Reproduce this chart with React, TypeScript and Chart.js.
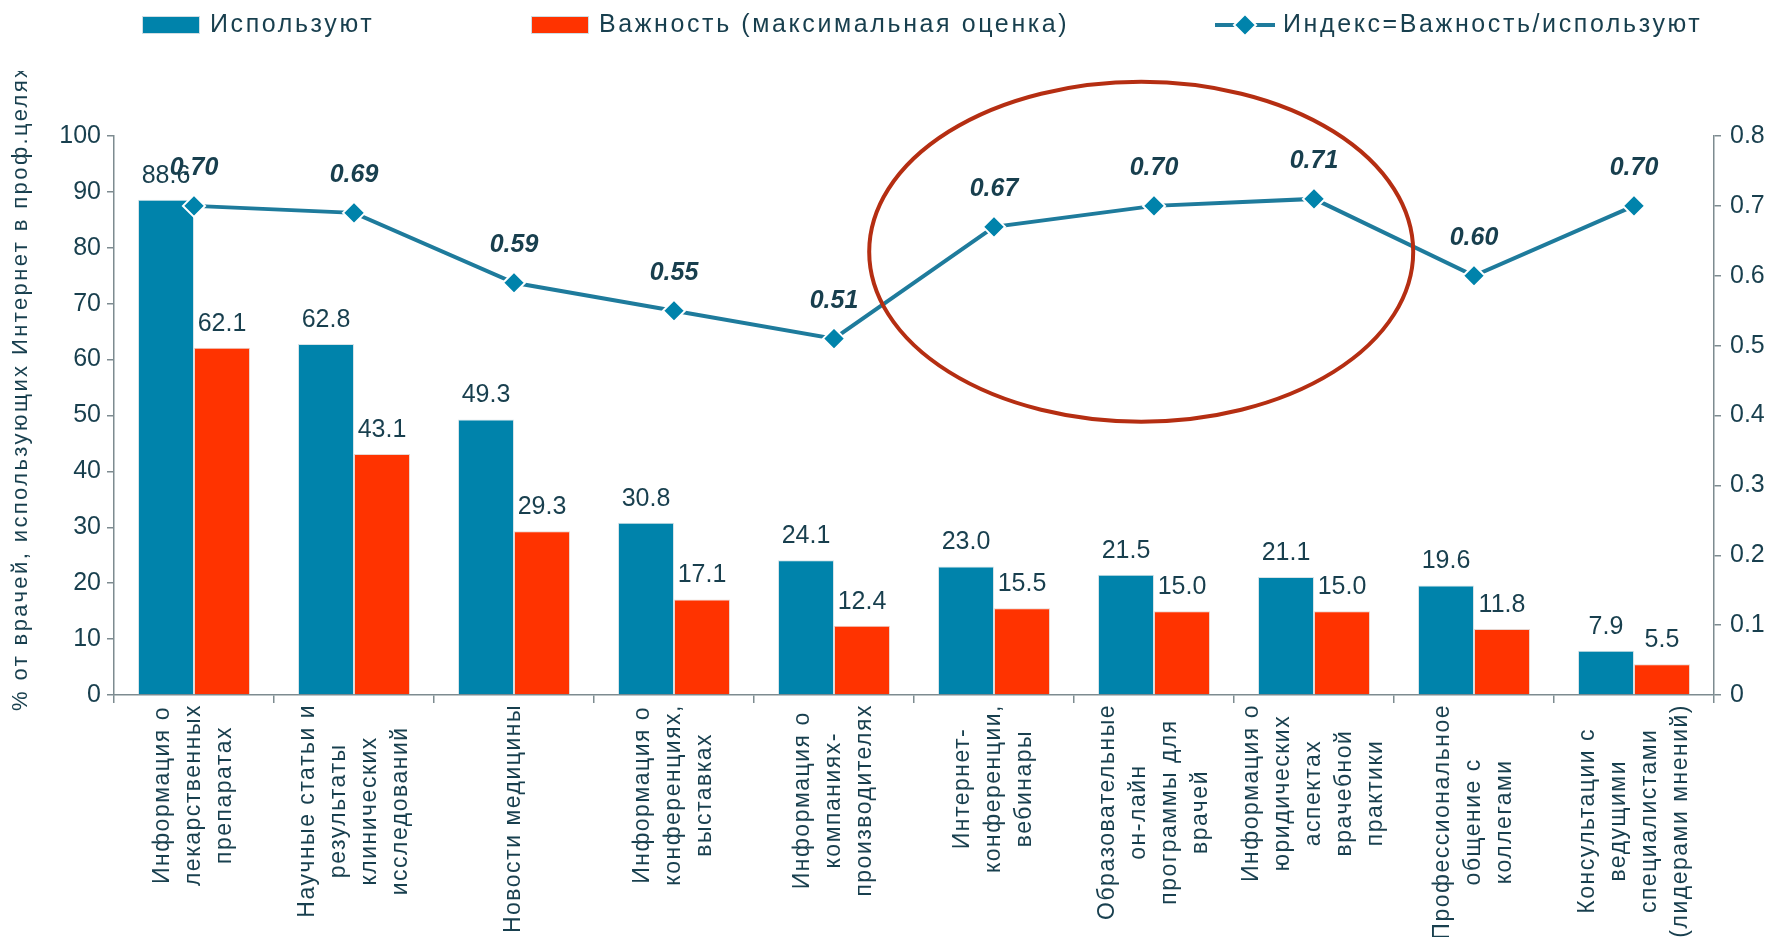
import React, { useEffect, useRef } from "react";
import { Chart, registerables } from "chart.js";

Chart.register(...registerables);

const CATEGORIES: string[][] = [
  ["Информация о", "лекарственных", "препаратах"],
  ["Научные статьи и", "результаты", "клинических", "исследований"],
  ["Новости медицины"],
  ["Информация о", "конференциях,", "выставках"],
  ["Информация о", "компаниях-", "производителях"],
  ["Интернет-", "конференции,", "вебинары"],
  ["Образовательные", "он-лайн", "программы для", "врачей"],
  ["Информация о", "юридических", "аспектах", "врачебной", "практики"],
  ["Профессиональное", "общение с", "коллегами"],
  ["Консультации с", "ведущими", "специалистами", "(лидерами мнений)"],
];

const SERIES_NAMES = ["Используют", "Важность (максимальная оценка)", "Индекс=Важность/используют"];
const USE_VALUES = [88.6, 62.8, 49.3, 30.8, 24.1, 23.0, 21.5, 21.1, 19.6, 7.9];
const IMPORTANCE_VALUES = [62.1, 43.1, 29.3, 17.1, 12.4, 15.5, 15.0, 15.0, 11.8, 5.5];
const INDEX_VALUES = [0.7, 0.69, 0.59, 0.55, 0.51, 0.67, 0.7, 0.71, 0.6, 0.7];
const Y_TITLE = "% от врачей, использующих Интернет в проф.целях";

const BLUE = "#0083AB";
const RED = "#FF3300";
const LINE = "#1E7B9C";
const TEXT = "#183f4e";
const AXIS = "#7d8b90";
const ELLIPSE = "#B52E12";
const FONT = '"Liberation Sans", Arial, sans-serif';

function setSpacing(ctx: any, px: number) {
  if ("letterSpacing" in ctx) ctx.letterSpacing = px + "px";
}

const overlayPlugin = {
  id: "overlay",
  afterDatasetsDraw(chart: any) {
    const ctx = chart.ctx;
    const xs = chart.scales.x;
    const ys = chart.scales.y;
    // highlight ellipse
    ctx.save();
    const cx = xs.getPixelForDecimal(0.642);
    const rx = (xs.right - xs.left) * 0.17;
    const cy = ys.getPixelForValue(79.3);
    const ry = ys.getPixelForValue(0) - ys.getPixelForValue(30.4);
    ctx.beginPath();
    ctx.ellipse(cx, cy, rx, ry, 0, 0, Math.PI * 2);
    ctx.strokeStyle = ELLIPSE;
    ctx.lineWidth = 4;
    ctx.stroke();
    ctx.restore();

    // data labels
    ctx.save();
    ctx.fillStyle = TEXT;
    ctx.textAlign = "center";
    ctx.textBaseline = "alphabetic";
    ctx.font = "25px " + FONT;
    const sets = [USE_VALUES, IMPORTANCE_VALUES];
    sets.forEach((vals, di) => {
      const meta = chart.getDatasetMeta(di);
      meta.data.forEach((el: any, i: number) => {
        ctx.fillText(vals[i].toFixed(1), el.x, el.y - 17);
      });
    });
    ctx.font = "italic bold 25px " + FONT;
    const lm = chart.getDatasetMeta(2);
    lm.data.forEach((el: any, i: number) => {
      ctx.fillText(INDEX_VALUES[i].toFixed(2), el.x, el.y - 31);
    });
    ctx.restore();
  },
  afterDraw(chart: any) {
    const ctx = chart.ctx;
    const xs = chart.scales.x;
    // category labels (rotated)
    ctx.save();
    ctx.fillStyle = TEXT;
    ctx.font = "23px " + FONT;
    setSpacing(ctx, 1.5);
    ctx.textAlign = "center";
    ctx.textBaseline = "middle";
    const top = xs.top + 9;
    const lineGap = 31;
    CATEGORIES.forEach((lines, i) => {
      const cxp = xs.getPixelForValue(i);
      const maxW = Math.max(...lines.map((l) => ctx.measureText(l).width));
      const cyp = top + maxW / 2;
      lines.forEach((l, j) => {
        const x = cxp + (j - (lines.length - 1) / 2) * lineGap;
        ctx.save();
        ctx.translate(x, cyp);
        ctx.rotate(-Math.PI / 2);
        ctx.fillText(l, 0, 0);
        ctx.restore();
      });
    });
    ctx.restore();

    // y axis title (clipped at top like the original)
    ctx.save();
    ctx.beginPath();
    ctx.rect(0, 71, 80, 900);
    ctx.clip();
    ctx.fillStyle = TEXT;
    ctx.font = "22px " + FONT;
    setSpacing(ctx, 2.4);
    ctx.textAlign = "left";
    ctx.textBaseline = "middle";
    ctx.translate(21, 711);
    ctx.rotate(-Math.PI / 2);
    ctx.fillText(Y_TITLE, 0, 0);
    ctx.restore();

    // legend
    ctx.save();
    ctx.font = "25px " + FONT;
    setSpacing(ctx, 2.6);
    ctx.textBaseline = "middle";
    ctx.textAlign = "left";
    const ly = 25;
    // item 1
    ctx.fillStyle = BLUE;
    ctx.fillRect(142, ly - 9, 58, 18);
    ctx.strokeStyle = "#cfdde3";
    ctx.lineWidth = 1;
    ctx.strokeRect(142.5, ly - 8.5, 57, 17);
    ctx.fillStyle = TEXT;
    ctx.fillText(SERIES_NAMES[0], 210, ly);
    // item 2
    ctx.fillStyle = RED;
    ctx.fillRect(531, ly - 9, 58, 18);
    ctx.strokeRect(531.5, ly - 8.5, 57, 17);
    ctx.fillStyle = TEXT;
    ctx.fillText(SERIES_NAMES[1], 599, ly);
    // item 3
    ctx.strokeStyle = LINE;
    ctx.lineWidth = 4;
    ctx.beginPath();
    ctx.moveTo(1215, ly);
    ctx.lineTo(1275, ly);
    ctx.stroke();
    ctx.beginPath();
    const r = 11;
    ctx.moveTo(1245, ly - r);
    ctx.lineTo(1245 + r, ly);
    ctx.lineTo(1245, ly + r);
    ctx.lineTo(1245 - r, ly);
    ctx.closePath();
    ctx.fillStyle = BLUE;
    ctx.fill();
    ctx.strokeStyle = "#ffffff";
    ctx.lineWidth = 2;
    ctx.stroke();
    ctx.fillStyle = TEXT;
    ctx.fillText(SERIES_NAMES[2], 1283, ly);
    ctx.restore();
  },
};

export default function App() {
  const ref = useRef<HTMLCanvasElement | null>(null);
  useEffect(() => {
    if (!ref.current) return;
    const chart = new Chart(ref.current, {
      type: "bar",
      data: {
        labels: CATEGORIES.map((c) => c.join(" ")),
        datasets: [
          {
            type: "bar",
            label: SERIES_NAMES[0],
            data: USE_VALUES,
            backgroundColor: BLUE,
            borderColor: "#d6e3e8",
            borderWidth: 1,
            yAxisID: "y",
            order: 2,
            categoryPercentage: 0.7,
            barPercentage: 1.0,
          },
          {
            type: "bar",
            label: SERIES_NAMES[1],
            data: IMPORTANCE_VALUES,
            backgroundColor: RED,
            borderColor: "#e8d6d0",
            borderWidth: 1,
            yAxisID: "y",
            order: 2,
            categoryPercentage: 0.7,
            barPercentage: 1.0,
          },
          {
            type: "line",
            label: SERIES_NAMES[2],
            data: INDEX_VALUES,
            yAxisID: "y1",
            borderColor: LINE,
            borderWidth: 4,
            tension: 0,
            pointStyle: "rectRot",
            pointRadius: 11,
            pointBackgroundColor: BLUE,
            pointBorderColor: "#ffffff",
            pointBorderWidth: 2,
            order: 0,
          },
        ] as any,
      },
      options: {
        responsive: false,
        animation: false,
        layout: { padding: { top: 136, left: 0, right: 0, bottom: 0 } },
        plugins: { legend: { display: false }, tooltip: { enabled: false }, title: { display: false } },
        scales: {
          x: {
            grid: { offset: true, drawOnChartArea: false, tickLength: 8, color: AXIS, lineWidth: 1.5 },
            border: { color: AXIS, width: 1.5 },
            ticks: { callback: () => "", maxRotation: 0, autoSkip: false },
            afterFit: (s: any) => {
              s.height = 242;
            },
          },
          y: {
            position: "left",
            min: 0,
            max: 100,
            ticks: { stepSize: 10, color: TEXT, font: { size: 25, family: FONT }, padding: 6 },
            grid: { drawOnChartArea: false, tickLength: 7, color: AXIS, lineWidth: 1.5 },
            border: { color: AXIS, width: 1.5 },
            afterFit: (s: any) => {
              s.width = 114;
            },
          },
          y1: {
            position: "right",
            min: 0,
            max: 0.8,
            ticks: {
              stepSize: 0.1,
              color: TEXT,
              font: { size: 25, family: FONT },
              padding: 9,
              callback: (v: any) => (Number(v) === 0 ? "0" : Number(v).toFixed(1)),
            },
            grid: { drawOnChartArea: false, tickLength: 7, color: AXIS, lineWidth: 1.5 },
            border: { color: AXIS, width: 1.5 },
            afterFit: (s: any) => {
              s.width = 59;
            },
          },
        },
      } as any,
      plugins: [overlayPlugin],
    });
    return () => chart.destroy();
  }, []);
  return (
    <div style={{ position: "fixed", left: 0, top: 0, width: 1773, height: 937, background: "#fff" }}>
      <canvas ref={ref} width={1773} height={937} style={{ display: "block" }} />
    </div>
  );
}
